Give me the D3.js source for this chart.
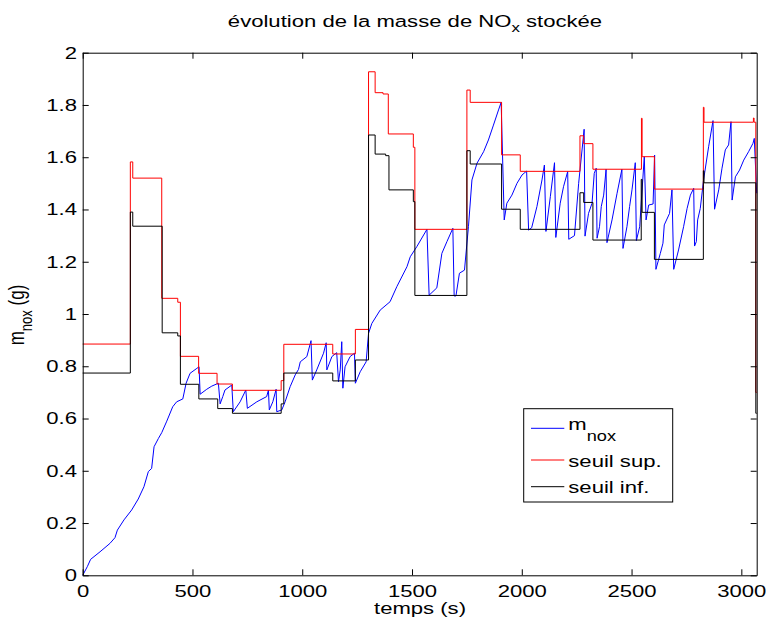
<!DOCTYPE html>
<html>
<head>
<meta charset="utf-8">
<script src="https://cdn.jsdelivr.net/npm/d3@7"></script>
<style>
  body { margin: 0; background: #fff; }
  text { font-family: "Liberation Sans", Arial, Helvetica, sans-serif; fill: #000; }
</style>
</head>
<body>
<div id="chart"></div>
<script>
// stored NOx mass vs time, with the upper / lower thresholds (step signals)

var xTicks = [0, 500, 1000, 1500, 2000, 2500, 3000],
    xTickLabels = ["0", "500", "1000", "1500", "2000", "2500", "3000"],
    yTicks = [0, 0.2, 0.4, 0.6, 0.8, 1, 1.2, 1.4, 1.6, 1.8, 2],
    yTickLabels = ["0", "0.2", "0.4", "0.6", "0.8", "1", "1.2", "1.4", "1.6", "1.8", "2"];

// [time (s), value (g)] - thresholds hold their value until the next point
var seuilSup = [[0, 0.885], [217, 1.582], [228, 1.520], [360, 1.060], [433, 1.045], [445, 0.838],
    [528, 0.773], [612, 0.732], [682, 0.708], [904, 0.745], [916, 0.884], [1139, 0.847],
    [1242, 0.941], [1302, 1.927], [1332, 1.847], [1368, 1.842], [1392, 1.689], [1506, 1.638],
    [1513, 1.324], [1750, 1.857], [1765, 1.810], [1908, 1.609], [1993, 1.546], [2265, 1.682],
    [2282, 1.652], [2324, 1.554], [2545, 1.749], [2548, 1.602], [2604, 1.478], [2827, 1.791],
    [2830, 1.734], [3055, 1.750], [3058, 1.734], [3066, 0.700], [3070, 0.700]];

var seuilInf = [[0, 0.774], [217, 1.390], [228, 1.336], [362, 0.928], [433, 0.916], [445, 0.731],
    [529, 0.675], [615, 0.638], [682, 0.620], [904, 0.656], [916, 0.774], [1139, 0.744],
    [1242, 0.824], [1302, 1.685], [1332, 1.612], [1380, 1.606], [1395, 1.475], [1506, 1.430],
    [1513, 1.071], [1750, 1.625], [1765, 1.574], [1908, 1.401], [1993, 1.324], [2265, 1.464],
    [2282, 1.427], [2324, 1.283], [2544, 1.515], [2548, 1.389], [2604, 1.209], [2827, 1.548],
    [2830, 1.502], [3066, 0.620], [3070, 0.620]];

var mNox = [[0, 0], [21, 0.033], [36, 0.061], [79, 0.090], [124, 0.122], [147, 0.144], [158, 0.173],
    [188, 0.212], [223, 0.250], [253, 0.292], [279, 0.339], [299, 0.397], [314, 0.409], [325, 0.492],
    [345, 0.524], [360, 0.546], [383, 0.590], [410, 0.645], [428, 0.664], [456, 0.675], [471, 0.735],
    [489, 0.773], [520, 0.792], [530, 0.798], [535, 0.693], [565, 0.712], [588, 0.724], [618, 0.735],
    [626, 0.656], [638, 0.684], [648, 0.709], [679, 0.728], [686, 0.626], [717, 0.664], [743, 0.709],
    [750, 0.639], [793, 0.664], [838, 0.684], [846, 0.709], [850, 0.633], [866, 0.664], [881, 0.712],
    [884, 0.626], [907, 0.633], [922, 0.664], [945, 0.722], [968, 0.767], [983, 0.788], [991, 0.817],
    [1021, 0.837], [1040, 0.898], [1046, 0.747], [1066, 0.786], [1097, 0.850], [1109, 0.890],
    [1112, 0.786], [1135, 0.837], [1157, 0.852], [1165, 0.741], [1173, 0.786], [1180, 0.894],
    [1185, 0.716], [1195, 0.798], [1218, 0.837], [1238, 0.850], [1242, 0.735], [1264, 0.779],
    [1291, 0.817], [1302, 0.926], [1317, 0.964], [1355, 1.015], [1400, 1.047], [1431, 1.105],
    [1477, 1.181], [1492, 1.219], [1522, 1.258], [1568, 1.324], [1578, 1.072], [1613, 1.100],
    [1636, 1.232], [1659, 1.277], [1686, 1.328], [1692, 1.069], [1700, 1.069], [1716, 1.156],
    [1739, 1.168], [1757, 1.334], [1773, 1.513], [1796, 1.577], [1826, 1.621], [1848, 1.666],
    [1871, 1.723], [1894, 1.781], [1906, 1.810], [1920, 1.360], [1932, 1.424], [1955, 1.455],
    [1978, 1.500], [2001, 1.532], [2022, 1.547], [2031, 1.321], [2045, 1.330], [2069, 1.411],
    [2092, 1.513], [2103, 1.570], [2110, 1.316], [2130, 1.449], [2149, 1.579], [2155, 1.293],
    [2175, 1.424], [2190, 1.487], [2209, 1.545], [2214, 1.286], [2240, 1.300], [2259, 1.500],
    [2284, 1.707], [2288, 1.298], [2304, 1.385], [2320, 1.424], [2330, 1.538], [2339, 1.558],
    [2343, 1.290], [2354, 1.334], [2362, 1.411], [2373, 1.455], [2384, 1.554], [2388, 1.273],
    [2411, 1.360], [2434, 1.462], [2456, 1.554], [2461, 1.251], [2479, 1.334], [2491, 1.411],
    [2502, 1.475], [2517, 1.579], [2522, 1.281], [2537, 1.334], [2558, 1.602], [2566, 1.360],
    [2578, 1.417], [2598, 1.421], [2605, 1.608], [2611, 1.171], [2631, 1.232], [2643, 1.271],
    [2649, 1.341], [2673, 1.385], [2684, 1.475], [2692, 1.171], [2714, 1.245], [2737, 1.334],
    [2753, 1.404], [2768, 1.455], [2783, 1.481], [2787, 1.260], [2795, 1.277], [2801, 1.360],
    [2813, 1.404], [2828, 1.513], [2851, 1.640], [2871, 1.740], [2878, 1.401], [2897, 1.475],
    [2912, 1.558], [2927, 1.628], [2942, 1.647], [2953, 1.736], [2958, 1.436], [2973, 1.525],
    [2992, 1.551], [3011, 1.589], [3033, 1.621], [3053, 1.653], [3059, 1.672], [3070, 1.462]];

var width = 766, height = 622;
var margin = {top: 52.7, right: 9.3, bottom: 46.7, left: 82.7};
var sx = 1.3; // the picture is stretched sideways, text too

var svg = d3.select("#chart").append("svg").attr("width", width).attr("height", height);

var x = d3.scaleLinear().domain([0, 3070]).range([margin.left, width - margin.right]);
var y = d3.scaleLinear().domain([0, 2]).range([height - margin.bottom, margin.top]);

// curves
var line = d3.line().x(function(d) { return x(d[0]); }).y(function(d) { return y(d[1]); });
var step = d3.line().x(function(d) { return x(d[0]); }).y(function(d) { return y(d[1]); }).curve(d3.curveStepAfter);

svg.append("path").datum(mNox).attr("d", line)
    .attr("fill", "none").attr("stroke", "#0000ff").attr("stroke-width", 1);
svg.append("path").datum(seuilSup).attr("d", step)
    .attr("fill", "none").attr("stroke", "#ff0000").attr("stroke-width", 1);
svg.append("path").datum(seuilInf).attr("d", step)
    .attr("fill", "none").attr("stroke", "#000000").attr("stroke-width", 1);

// axes, ticks inside on all four sides
var gx = svg.append("g").attr("transform", "translate(0," + y(0) + ")")
    .call(d3.axisBottom(x).tickValues(xTicks).tickFormat(function(d, i) { return xTickLabels[i]; })
        .tickSizeInner(-6).tickSizeOuter(0).tickPadding(10));
var gy = svg.append("g").attr("transform", "translate(" + x(0) + ",0)")
    .call(d3.axisLeft(y).tickValues(yTicks).tickFormat(function(d, i) { return yTickLabels[i]; })
        .tickSizeInner(-6).tickSizeOuter(0).tickPadding(4.4));
svg.append("g").attr("transform", "translate(0," + y(2) + ")")
    .call(d3.axisTop(x).tickValues(xTicks).tickFormat("").tickSizeInner(-6).tickSizeOuter(0));
svg.append("g").attr("transform", "translate(" + x(3070) + ",0)")
    .call(d3.axisRight(y).tickValues(yTicks).tickFormat("").tickSizeInner(-6).tickSizeOuter(0));

svg.selectAll(".tick text")
    .attr("font-size", 17)
    .attr("font-family", null)
    .attr("fill", "#000")
    .attr("transform", "scale(" + sx + ",1)");
gy.selectAll(".tick text").attr("x", -4.4);
svg.selectAll(".domain, .tick line").attr("stroke", "#000");

// title
var title = svg.append("text")
    .attr("transform", "translate(415,26.5) scale(" + sx + ",1)")
    .attr("text-anchor", "middle")
    .attr("font-size", 17);
title.append("tspan").text("évolution de la masse de NO");
title.append("tspan").attr("dy", 5.5).attr("font-size", 13).text("x");
title.append("tspan").attr("dy", -5.5).text(" stockée");

// axis labels
svg.append("text")
    .attr("transform", "translate(420,614) scale(" + sx + ",1)")
    .attr("text-anchor", "middle")
    .attr("font-size", 17)
    .text("temps (s)");

var ylab = svg.append("text")
    .attr("transform", "translate(24,315) scale(" + sx + ",1) rotate(-90)")
    .attr("text-anchor", "middle")
    .attr("font-size", 17);
ylab.append("tspan").text("m");
ylab.append("tspan").attr("dy", 6).attr("font-size", 13).text("nox");
ylab.append("tspan").attr("dy", -6).text(" (g)");

// legend
var legend = svg.append("g");
legend.append("rect")
    .attr("x", 523.7).attr("y", 408.7).attr("width", 149).attr("height", 93.3)
    .attr("fill", "#fff").attr("stroke", "#000").attr("stroke-width", 1);

var legendItems = [
    {color: "#0000ff", ly: 428.3, ty: 430},
    {color: "#ff0000", ly: 460, ty: 466.7},
    {color: "#000000", ly: 486.7, ty: 493.3}
];
legend.selectAll("line").data(legendItems).enter().append("line")
    .attr("x1", 531).attr("x2", 564.3)
    .attr("y1", function(d) { return d.ly; }).attr("y2", function(d) { return d.ly; })
    .attr("stroke", function(d) { return d.color; }).attr("stroke-width", 1);

var t0 = legend.append("text")
    .attr("transform", "translate(568.3," + legendItems[0].ty + ") scale(" + sx + ",1)")
    .attr("font-size", 17);
t0.append("tspan").text("m");
t0.append("tspan").attr("dy", 11).attr("font-size", 14).text("nox");

legend.append("text")
    .attr("transform", "translate(568.3," + legendItems[1].ty + ") scale(" + sx + ",1)")
    .attr("font-size", 17)
    .text("seuil sup.");
legend.append("text")
    .attr("transform", "translate(568.3," + legendItems[2].ty + ") scale(" + sx + ",1)")
    .attr("font-size", 17)
    .text("seuil inf.");
</script>
</body>
</html>
